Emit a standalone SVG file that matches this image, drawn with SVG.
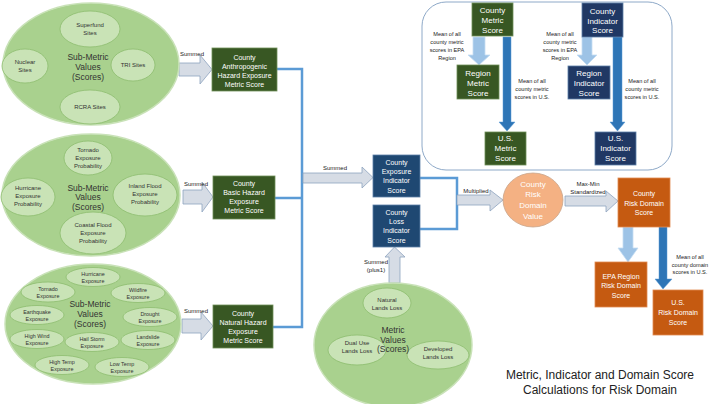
<svg xmlns="http://www.w3.org/2000/svg" width="709" height="404" viewBox="0 0 709 404">
<style>
text{font-family:"Liberation Sans",Arial,sans-serif;text-anchor:middle}
.big{fill:#A9D18E;stroke:#C9E2B8;stroke-width:1.5}
.in{fill:#C9E3B6;stroke:#8DBD6E;stroke-width:0.8}
.sub{font-size:8.5px;fill:#333}
.it{font-size:6px;fill:#333}
.its{font-size:5.4px;fill:#333}
.gbox{fill:#385723;stroke:#6F8F58;stroke-width:0.8}
.bbox{fill:#1F4872;stroke:#5C7FA8;stroke-width:0.8}
.obox{fill:#C55A11;stroke:#E08A50;stroke-width:0.8}
.bt{font-size:7px;fill:#fff}
.bt8{font-size:8px;fill:#fff}
.lbl{font-size:6px;fill:#222}
.note{font-size:5.6px;fill:#222}
.blk{fill:#D6DCE5;stroke:#8EA3BF;stroke-width:0.8}
.lt{fill:#9DC3E6;stroke:#C5DDF2;stroke-width:0.8}
.dk{fill:#2E75B6;stroke:#5B9BD5;stroke-width:0.5}
.conn{fill:none;stroke:#5B9BD5;stroke-width:2.5}
</style>
<rect x="422" y="2" width="250" height="168" rx="24" fill="#fff" stroke="#8EA9C8" stroke-width="1"/>

<g id="connectors">
<polyline class="conn" points="277,69 302,69 302,327 273,327"/>
<line class="conn" x1="275" y1="198" x2="302" y2="198"/>
<polyline class="conn" points="420,178 457,178 457,229 420,229"/>
<path class="blk" d="M179,63 H200 V55 L212,69.5 L200,84 V76 H179 Z"/>
<path class="blk" d="M183,190 H202 V182 L213,197 L202,212 V204 H183 Z"/>
<path class="blk" d="M182,319 H201 V312 L213,326 L201,340 V333 H182 Z"/>
<path class="blk" d="M303,173 H362 V167 L373,177.5 L362,188 V183 H303 Z"/>
<path class="blk" d="M457,195 H490 V190 L503,200 L490,211 V205 H457 Z"/>
<path class="blk" d="M565,196 H606 V191 L618,201 L606,212 V206 H565 Z"/>
<path class="blk" d="M389,283 V257 H385 L394.5,247 L405,257 H400 V283 Z"/>
<path class="lt" d="M473,37 H485 V55 H490 L479,65 L468,55 H473 Z"/>
<path class="dk" d="M503,37 H511 V122 H515 L507,131 L499,122 H503 Z"/>
<path class="lt" d="M582,37 H592 V55 H597 L587,65 L577,55 H582 Z"/>
<path class="dk" d="M613,37 H622 V122 H625 L617.5,131 L610,122 H613 Z"/>
<path class="lt" d="M623,227 H633 V248 H638 L628,262 L618,248 H623 Z"/>
<path class="dk" d="M659,227 H667 V279 H672 L663,289 L655,279 H659 Z"/>
<text class="lbl" x="192" y="56">Summed</text>
<text class="lbl" x="196" y="186">Summed</text>
<text class="lbl" x="196" y="313">Summed</text>
<text class="lbl" x="335" y="170">Summed</text>
<text class="lbl" x="476" y="193">Multiplied</text>
<text class="lbl" x="376" y="264">Summed</text>
<text class="lbl" x="376" y="272">(plus1)</text>
<text class="lbl" x="588" y="186">Max-Min</text>
<text class="lbl" x="588" y="194">Standardized</text>
<text class="note" x="447" y="36">Mean of all</text>
<text class="note" x="447" y="44">county metric</text>
<text class="note" x="447" y="52">scores in EPA</text>
<text class="note" x="447" y="60">Region</text>
<text class="note" x="532" y="83">Mean of all</text>
<text class="note" x="532" y="91">county metric</text>
<text class="note" x="532" y="99">scores in U.S.</text>
<text class="note" x="560" y="36">Mean of all</text>
<text class="note" x="560" y="44">county metric</text>
<text class="note" x="560" y="52">scores in EPA</text>
<text class="note" x="560" y="60">Region</text>
<text class="note" x="642" y="83">Mean of all</text>
<text class="note" x="642" y="91">county metric</text>
<text class="note" x="642" y="99">scores in U.S.</text>
<text class="note" x="690" y="259">Mean of all</text>
<text class="note" x="690" y="266.5">county domain</text>
<text class="note" x="690" y="274">scores in U.S.</text>
</g>

<g id="anthro-submetrics">
<ellipse class="big" cx="91" cy="64" rx="88" ry="61"/>
<ellipse class="in" cx="90" cy="29" rx="30" ry="18"/>
<text class="it" x="90" y="27">Superfund</text><text class="it" x="90" y="35">Sites</text>
<ellipse class="in" cx="25" cy="66" rx="23" ry="17"/>
<text class="it" x="25" y="64">Nuclear</text><text class="it" x="25" y="72">Sites</text>
<ellipse class="in" cx="133" cy="65" rx="22" ry="16"/>
<text class="it" x="133" y="67">TRI Sites</text>
<ellipse class="in" cx="90" cy="107" rx="30" ry="17"/>
<text class="it" x="90" y="109">RCRA Sites</text>
<text class="sub" x="88" y="60">Sub-Metric</text><text class="sub" x="88" y="70">Values</text><text class="sub" x="88" y="80">(Scores)</text>
</g>

<g id="basic-submetrics">
<ellipse class="big" cx="91" cy="195" rx="89" ry="61"/>
<ellipse class="in" cx="88" cy="158" rx="24" ry="17"/>
<text class="it" x="88" y="152">Tornado</text><text class="it" x="88" y="160">Exposure</text><text class="it" x="88" y="168">Probability</text>
<ellipse class="in" cx="28" cy="197" rx="27" ry="19"/>
<text class="it" x="28" y="190">Hurricane</text><text class="it" x="28" y="198">Exposure</text><text class="it" x="28" y="206">Probability</text>
<ellipse class="in" cx="145" cy="195" rx="32" ry="21"/>
<text class="it" x="145" y="188">Inland Flood</text><text class="it" x="145" y="196">Exposure</text><text class="it" x="145" y="204">Probability</text>
<ellipse class="in" cx="93" cy="233" rx="33" ry="21"/>
<text class="it" x="93" y="227">Coastal Flood</text><text class="it" x="93" y="235">Exposure</text><text class="it" x="93" y="243">Probability</text>
<text class="sub" x="88" y="191">Sub-Metric</text><text class="sub" x="88" y="200">Values</text><text class="sub" x="88" y="210">(Scores)</text>
</g>

<g id="natural-submetrics">
<ellipse class="big" cx="93" cy="324" rx="88" ry="60"/>
<ellipse class="in" cx="93" cy="277" rx="27" ry="9.5"/>
<text class="its" x="93" y="275.5">Hurricane</text><text class="its" x="93" y="282.5">Exposure</text>
<ellipse class="in" cx="48" cy="292" rx="27" ry="10"/>
<text class="its" x="48" y="290.5">Tornado</text><text class="its" x="48" y="297.5">Exposure</text>
<ellipse class="in" cx="138" cy="293" rx="27" ry="9.5"/>
<text class="its" x="138" y="291.5">Wildfire</text><text class="its" x="138" y="298.5">Exposure</text>
<ellipse class="in" cx="37" cy="315" rx="27" ry="9.5"/>
<text class="its" x="37" y="313.5">Earthquake</text><text class="its" x="37" y="320.5">Exposure</text>
<ellipse class="in" cx="150" cy="317" rx="27" ry="9.5"/>
<text class="its" x="150" y="315.5">Drought</text><text class="its" x="150" y="322.5">Exposure</text>
<ellipse class="in" cx="37" cy="339" rx="27" ry="9.5"/>
<text class="its" x="37" y="337.5">High Wind</text><text class="its" x="37" y="344.5">Exposure</text>
<ellipse class="in" cx="92" cy="342" rx="27" ry="9.5"/>
<text class="its" x="92" y="340.5">Hail Storm</text><text class="its" x="92" y="347.5">Exposure</text>
<ellipse class="in" cx="148" cy="340" rx="27" ry="9.5"/>
<text class="its" x="148" y="338.5">Landslide</text><text class="its" x="148" y="345.5">Exposure</text>
<ellipse class="in" cx="62" cy="365" rx="27" ry="9.5"/>
<text class="its" x="62" y="363.5">High Temp</text><text class="its" x="62" y="370.5">Exposure</text>
<ellipse class="in" cx="122" cy="367" rx="27" ry="9.5"/>
<text class="its" x="122" y="365.5">Low Temp</text><text class="its" x="122" y="372.5">Exposure</text>
<text class="sub" x="90" y="307">Sub-Metric</text><text class="sub" x="90" y="317">Values</text><text class="sub" x="90" y="327">(Scores)</text>
</g>

<g id="anthro-metric">
<rect class="gbox" x="212" y="48" width="65" height="43"/>
<text class="bt" x="244.5" y="59.5">County</text><text class="bt" x="244.5" y="68.5">Anthropogenic</text><text class="bt" x="244.5" y="77.5">Hazard Exposure</text><text class="bt" x="244.5" y="86.5">Metric Score</text>
</g>
<g id="basic-metric">
<rect class="gbox" x="213" y="176" width="62" height="43"/>
<text class="bt" x="244" y="186">County</text><text class="bt" x="244" y="195">Basic Hazard</text><text class="bt" x="244" y="204">Exposure</text><text class="bt" x="244" y="213">Metric Score</text>
</g>
<g id="natural-metric">
<rect class="gbox" x="213" y="305" width="60" height="43"/>
<text class="bt" x="243" y="316">County</text><text class="bt" x="243" y="325">Natural Hazard</text><text class="bt" x="243" y="334">Exposure</text><text class="bt" x="243" y="343">Metric Score</text>
</g>

<g id="exposure-indicator">
<rect class="bbox" x="373" y="155" width="47" height="42"/>
<text class="bt" x="396.5" y="164.5">County</text><text class="bt" x="396.5" y="173.5">Exposure</text><text class="bt" x="396.5" y="183">Indicator</text><text class="bt" x="396.5" y="192.5">Score</text>
</g>
<g id="loss-indicator">
<rect class="bbox" x="373" y="205" width="47" height="42"/>
<text class="bt" x="396.5" y="214.5">County</text><text class="bt" x="396.5" y="223.5">Loss</text><text class="bt" x="396.5" y="233">Indicator</text><text class="bt" x="396.5" y="242.5">Score</text>
</g>

<g id="loss-metrics">
<ellipse class="big" cx="393" cy="345" rx="79" ry="62"/>
<ellipse class="in" cx="387" cy="303" rx="24" ry="15"/>
<text class="it" x="387" y="302">Natural</text><text class="it" x="387" y="310">Lands Loss</text>
<ellipse class="in" cx="357" cy="350" rx="29" ry="15"/>
<text class="it" x="357" y="345">Dual Use</text><text class="it" x="357" y="353">Lands Loss</text>
<ellipse class="in" cx="438" cy="355" rx="31" ry="14"/>
<text class="it" x="438" y="351">Developed</text><text class="it" x="438" y="359">Lands Loss</text>
<text class="sub" x="393" y="333">Metric</text><text class="sub" x="393" y="343">Values</text><text class="sub" x="393" y="352">(Scores)</text>
</g>

<g id="risk-value">
<ellipse cx="533" cy="200" rx="30" ry="27" fill="#F4B183" stroke="#C9A48A" stroke-width="0.8"/>
<text class="bt8" x="533" y="187" fill="#FFF4EC">County</text><text class="bt8" x="533" y="197">Risk</text><text class="bt8" x="533" y="208">Domain</text><text class="bt8" x="533" y="219">Value</text>
</g>
<g id="risk-score">
<rect class="obox" x="618" y="178" width="52" height="49"/>
<text class="bt" x="644" y="196">County</text><text class="bt" x="644" y="206">Risk Domain</text><text class="bt" x="644" y="215">Score</text>
</g>
<g id="epa-risk">
<rect class="obox" x="595" y="262" width="52" height="45"/>
<text class="bt" x="621" y="279">EPA Region</text><text class="bt" x="621" y="288">Risk Domain</text><text class="bt" x="621" y="298">Score</text>
</g>
<g id="us-risk">
<rect class="obox" x="653" y="290" width="50" height="45"/>
<text class="bt" x="678" y="305">U.S.</text><text class="bt" x="678" y="315">Risk Domain</text><text class="bt" x="678" y="325">Score</text>
</g>

<g id="county-metric">
<rect class="gbox" x="472" y="3" width="41" height="33"/>
<text class="bt8" x="492.5" y="13">County</text><text class="bt8" x="492.5" y="23">Metric</text><text class="bt8" x="492.5" y="33">Score</text>
</g>
<g id="region-metric">
<rect class="gbox" x="457" y="65" width="42" height="34"/>
<text class="bt8" x="478" y="76">Region</text><text class="bt8" x="478" y="86">Metric</text><text class="bt8" x="478" y="95.5">Score</text>
</g>
<g id="us-metric">
<rect class="gbox" x="485" y="132" width="41" height="33"/>
<text class="bt8" x="505.5" y="141">U.S.</text><text class="bt8" x="505.5" y="151">Metric</text><text class="bt8" x="505.5" y="161">Score</text>
</g>
<g id="county-indicator">
<rect class="bbox" x="582" y="3" width="41" height="34" style="fill:#203864"/>
<text class="bt8" x="602.5" y="14">County</text><text class="bt8" x="602.5" y="23.5">Indicator</text><text class="bt8" x="602.5" y="33">Score</text>
</g>
<g id="region-indicator">
<rect class="bbox" x="568" y="66" width="42" height="33" style="fill:#203864"/>
<text class="bt8" x="589" y="76">Region</text><text class="bt8" x="589" y="86">Indicator</text><text class="bt8" x="589" y="96">Score</text>
</g>
<g id="us-indicator">
<rect class="bbox" x="595" y="132" width="41" height="33" style="fill:#203864"/>
<text class="bt8" x="615.5" y="141">U.S.</text><text class="bt8" x="615.5" y="151">Indicator</text><text class="bt8" x="615.5" y="161">Score</text>
</g>

<g id="title">
<text x="600" y="379" style="font-size:12px;fill:#222">Metric, Indicator and Domain Score</text>
<text x="600" y="394" style="font-size:12px;fill:#222">Calculations for Risk Domain</text>
</g>
</svg>
